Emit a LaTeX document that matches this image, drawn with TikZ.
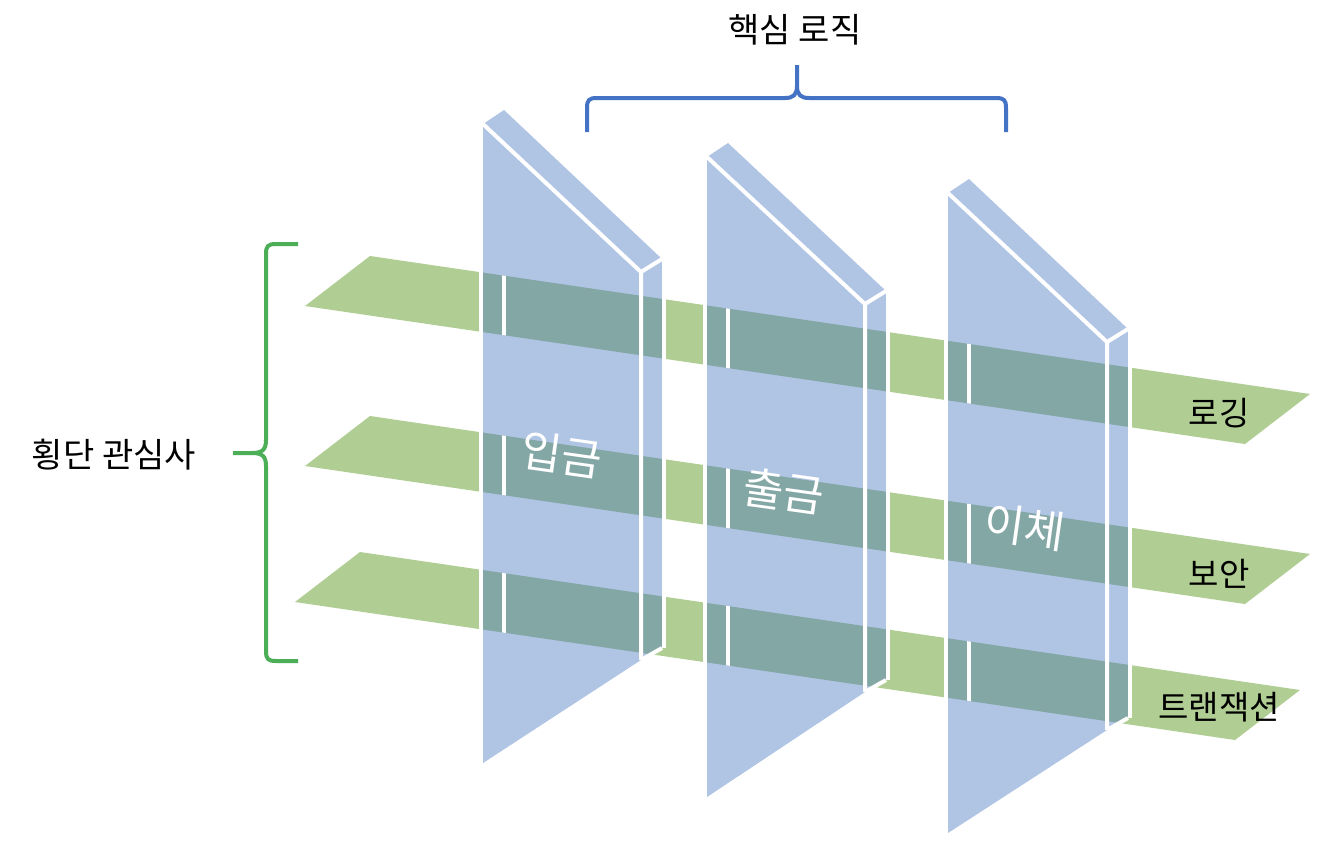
\documentclass[tikz,border=0pt]{standalone}
\usepackage{fontspec}
\newfontfamily\kr{Noto Sans CJK KR}
\definecolor{slabblue}{HTML}{B0C4E4}
\definecolor{bandgreen}{HTML}{B0CE94}
\definecolor{overlap}{HTML}{83A7A5}
\definecolor{braceblue}{HTML}{4472C4}
\definecolor{bracegreen}{HTML}{4CAF58}
\begin{document}
\begin{tikzpicture}[x=1pt,y=-1pt,
  wline/.style={draw=white,line width=4pt},
  bandfill/.style={fill=bandgreen},
  slabfill/.style={fill=slabblue},
  bluebrace/.style={draw=braceblue,line width=4pt},
  greenbrace/.style={draw=bracegreen,line width=4pt},
  slablabel/.style={text=white,font=\kr\fontsize{44}{50}\selectfont,rotate=-8,inner sep=0pt},
  bandlabel/.style={text=black,font=\kr\fontsize{33}{38}\selectfont,inner sep=0pt},
  title/.style={text=black,font=\kr\fontsize{34}{40}\selectfont,inner sep=0pt}]
\useasboundingbox (0,0) rectangle (1342,860);
\fill[white] (0,0) rectangle (1342,860);

% bands
\foreach \bx/\by in {370/256, 370/416, 360/552}{
  \fill[bandfill] (\bx,\by) -- ++(940,138) -- ++(-65,50) -- ++(-940,-138) -- cycle;
}

% slabs
\foreach \xa/\ya/\xb/\yd/\ye/\yg in {483/124/641/272/660/763, 707/157/865/304/692/797, 948/193/1107/342/730/833}{
  \fill[slabfill] (\xa,\ya) -- ++(21,-14) -- (\xb+21,\yd-13) -- (\xb+21,\ye-12) -- (\xb,\ye) -- (\xa,\yg) -- cycle;
}

% overlaps
\foreach \bx/\by in {370/256, 370/416, 360/552}{
  \foreach \xa/\ya/\xb/\yd/\ye/\yg in {483/124/641/272/660/763, 707/157/865/304/692/797, 948/193/1107/342/730/833}{
    \begin{scope}
      \clip (\bx,\by) -- ++(940,138) -- ++(-65,50) -- ++(-940,-138) -- cycle;
      \fill[overlap] (\xa,\ya) -- (\xb,\yd) -- (\xb+21,\yd-13) -- (\xb+21,\ye-12) -- (\xb,\ye) -- (\xa,\yg) -- cycle;
      \draw[wline] (\xa+20.5,0) -- (\xa+20.5,860);
    \end{scope}
  }
}

% white edges
\foreach \xa/\ya/\xb/\yd/\ye/\yg in {483/124/641/272/660/763, 707/157/865/304/692/797, 948/193/1107/342/730/833}{
  \draw[wline] (\xa,\ya) -- (\xb,\yd) -- (\xb,\ye);
  \draw[wline] (\xb,\yd) -- (\xb+21,\yd-13);
  \draw[wline] (\xb,\ye) -- (\xb+21,\ye-12);
  \draw[wline] (\xb+23,\yd-13) -- (\xb+23,\ye-12);
  \draw[wline] (\xa-2.5,\ya) -- (\xa-2.5,\yg);
}

% slab labels
\node[slablabel] (ipgeum) at (562,455) {입금};
\node[slablabel] (chulgeum) at (784,491) {출금};
\node[slablabel] (iche) at (1025,527) {이체};

% band labels
\node[bandlabel] (logging) at (1219,413) {로깅};
\node[bandlabel] (security) at (1219,574) {보안};
\node[bandlabel] (transaction) at (1219,707) {트랜잭션};

% braces
\draw[bluebrace] (587,132) -- (587,108) .. controls (587,100) and (589,98) .. (597,98) -- (785,98) .. controls (793,98) and (797,95) .. (797,86) -- (797,65);
\draw[bluebrace] (797,86) .. controls (797,95) and (801,98) .. (809,98) -- (996,98) .. controls (1004,98) and (1006,100) .. (1006,108) -- (1006,132);
\draw[greenbrace] (298,244) -- (276,244) .. controls (268,244) and (266,246) .. (266,254) -- (266,440) .. controls (266,450) and (262,453) .. (252,453) -- (233,453);
\draw[greenbrace] (252,453) .. controls (262,453) and (266,456) .. (266,466) -- (266,651) .. controls (266,659) and (268,661) .. (276,661) -- (298,661);

\node[title] (core) at (795,30) {핵심 로직};
\node[title] (cross) at (114,455) {횡단 관심사};
\end{tikzpicture}
\end{document}
